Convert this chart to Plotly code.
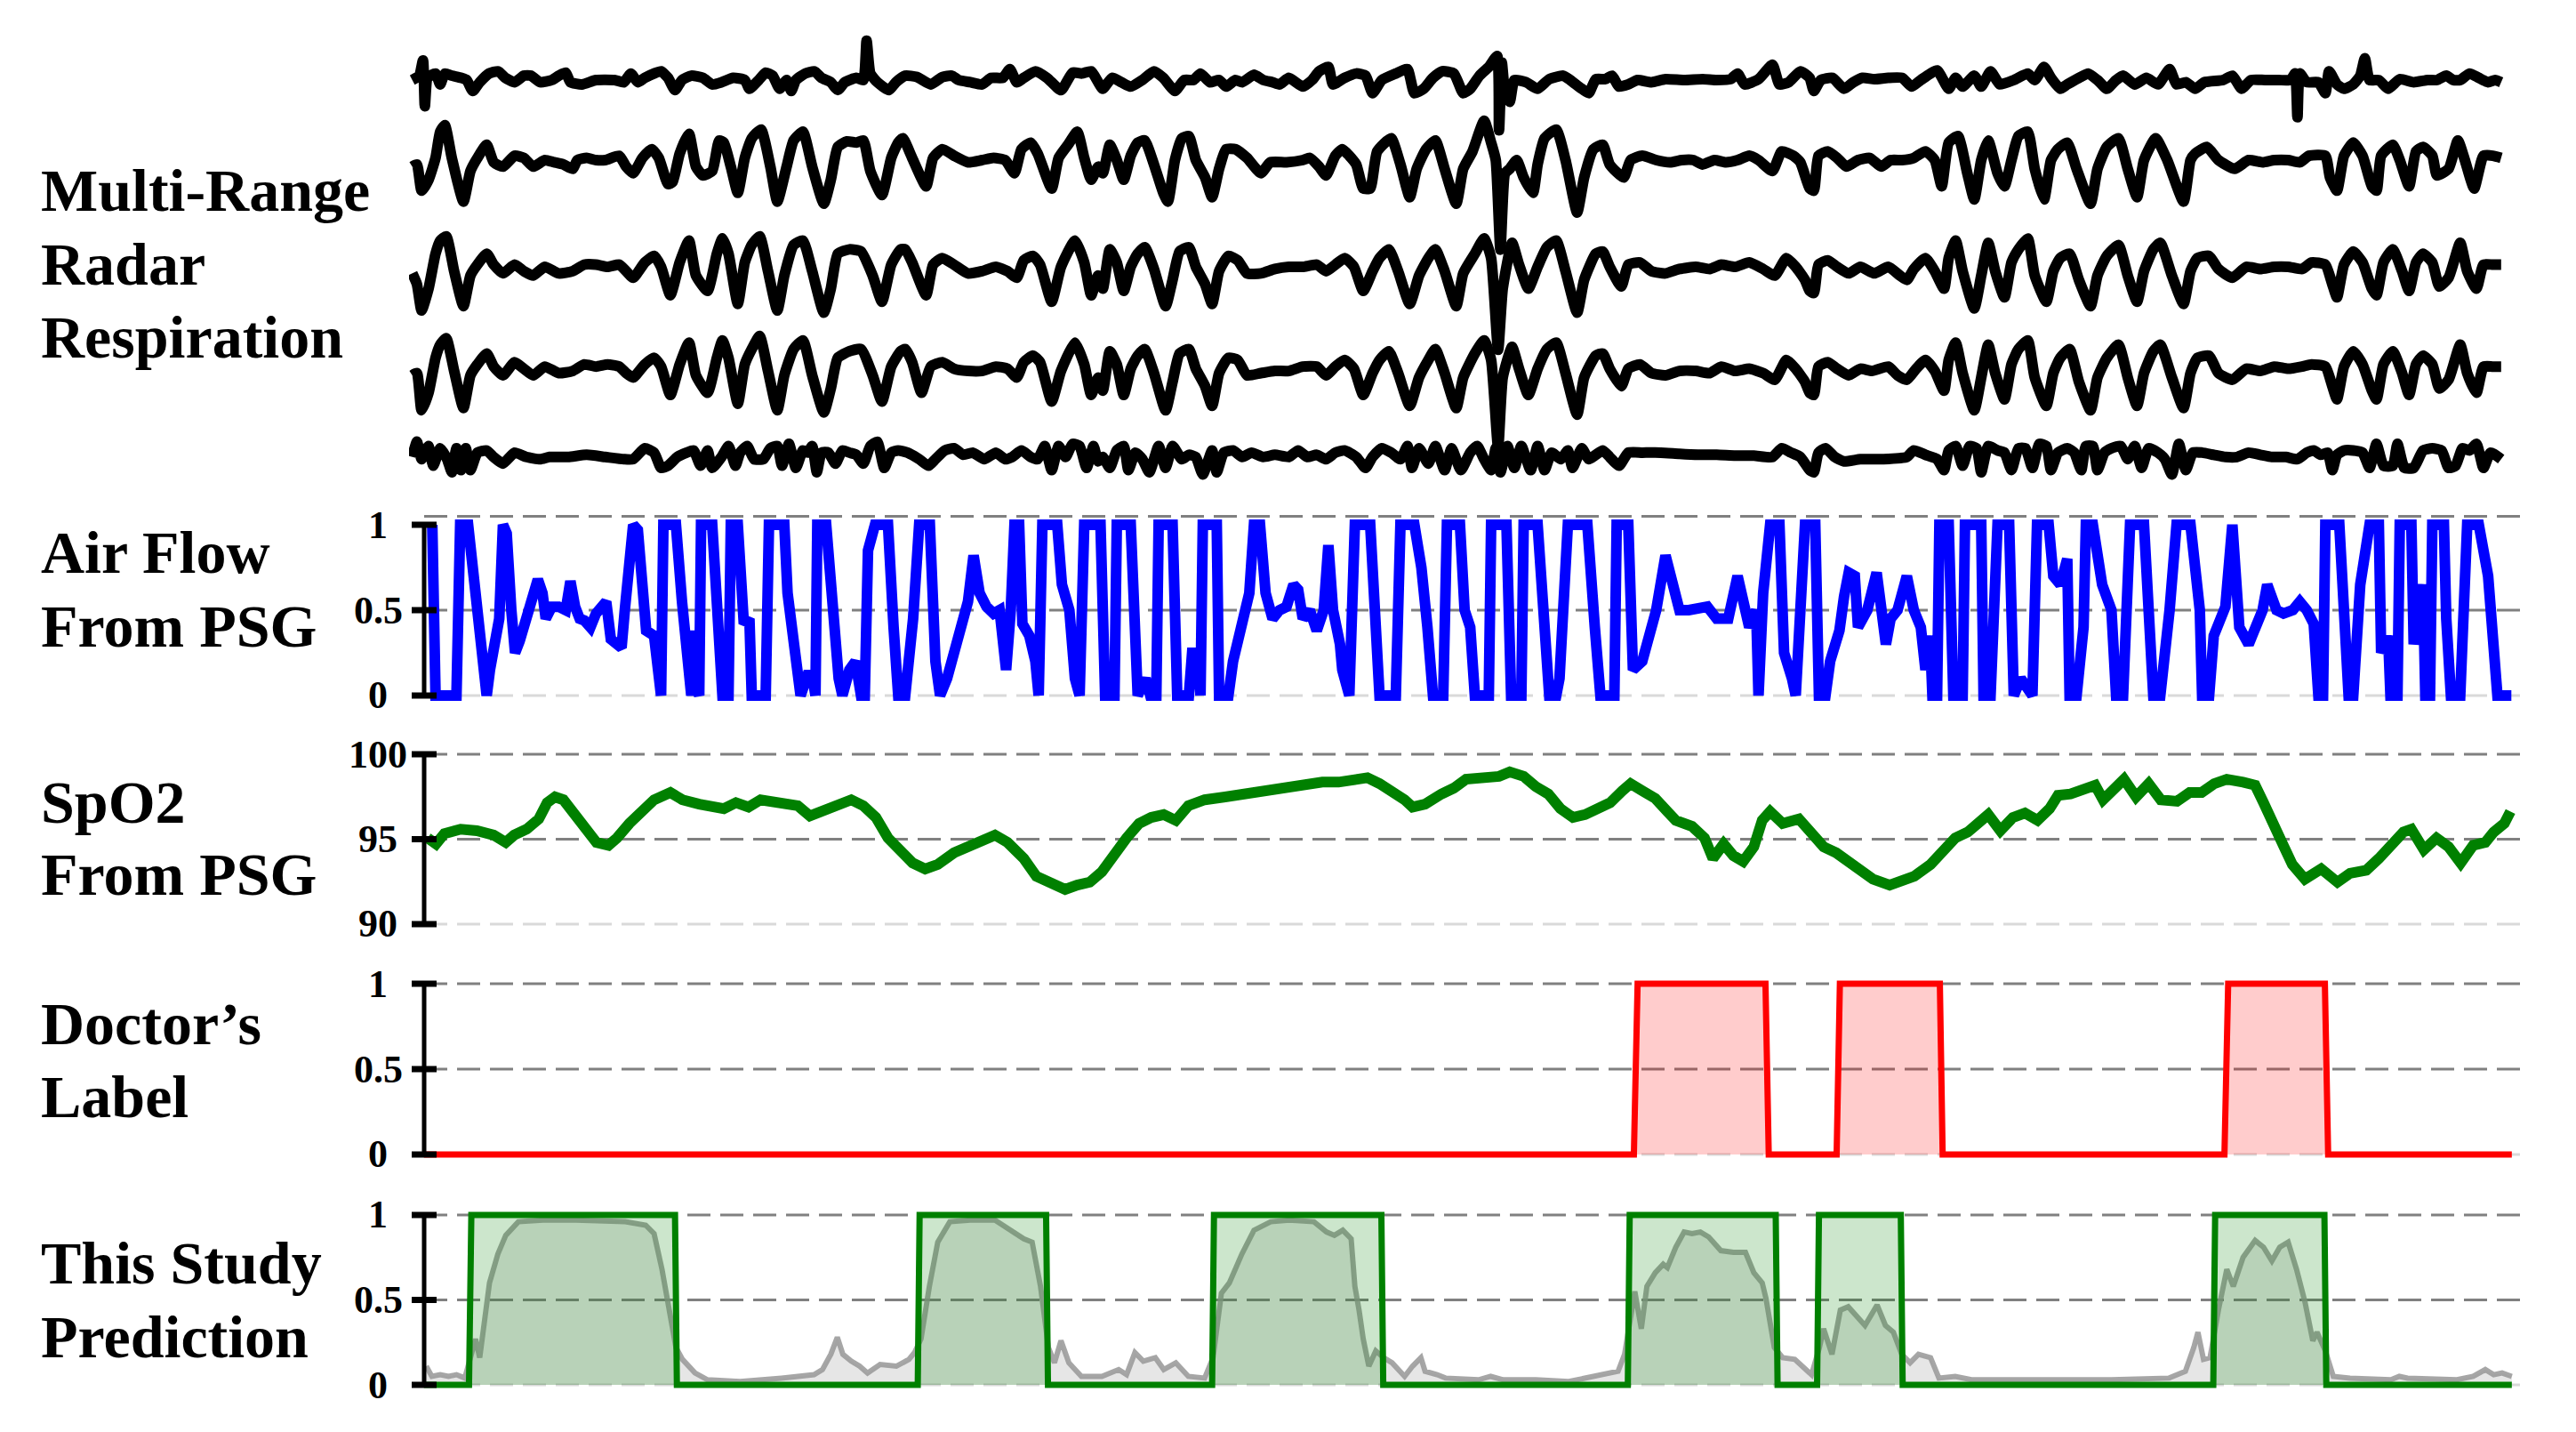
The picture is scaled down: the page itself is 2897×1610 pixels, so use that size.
import plotly.graph_objects as go

W, H = 2897, 1610
PAGE_MARGIN = 8  # default body margin of the html page
FONT = "Liberation Serif, Times New Roman, serif"

# ---------------- data (time in samples, values in signal units) ----------------
RADAR_1 = [(45,0.0),(60,0.1),(68,0.45),(72,-0.6),(78,0.05),(95,0.15),(105,-0.1),(115,0.15),(130,0.1),(150,0.05),(162,0.0),(175,-0.25),(190,-0.05),(210,0.15),(230,0.2),(245,0.05),(265,-0.05),(285,0.1),(300,0.1),(320,-0.05),(345,0.0),(360,0.1),(375,0.17),(385,-0.05),(410,-0.1),(440,0.0),(480,0.0),(500,-0.05),(515,0.15),(530,-0.05),(545,0.05),(565,0.15),(580,0.2),(595,0.05),(610,-0.23),(625,0.0),(645,0.1),(670,0.05),(690,-0.1),(710,-0.05),(735,0.05),(760,0.0),(770,-0.2),(790,0.0),(805,0.17),(820,0.1),(835,-0.2),(850,0.0),(860,-0.25),(870,0.0),(890,0.15),(910,0.2),(925,0.05),(945,-0.05),(960,-0.23),(975,-0.05),(1000,0.05),(1015,0.0),(1022,0.9),(1030,0.15),(1045,-0.05),(1070,-0.23),(1085,-0.05),(1105,0.1),(1130,0.07),(1160,-0.1),(1185,0.07),(1205,0.1),(1220,0.0),(1245,-0.05),(1270,-0.1),(1290,0.05),(1315,0.05),(1330,0.25),(1345,-0.05),(1360,0.05),(1385,0.2),(1410,0.05),(1440,-0.23),(1465,0.17),(1485,0.15),(1505,0.2),(1520,-0.05),
           (1530,-0.2),(1550,0.05),(1570,-0.05),(1590,-0.15),(1615,0.0),(1640,0.2),(1660,0.05),(1685,-0.25),(1705,0.0),(1725,0.0),(1740,0.15),(1760,-0.05),(1780,0.0),(1795,-0.15),(1815,0.0),(1830,-0.05),(1855,0.12),(1875,0.0),(1895,-0.05),(1910,-0.1),(1930,0.05),(1960,-0.15),(1980,0.0),(1995,0.2),(2015,0.3),(2025,-0.1),(2050,0.05),(2075,0.15),(2095,0.1),(2110,-0.3),(2130,0.0),(2160,0.15),(2185,0.25),(2200,-0.3),(2220,-0.2),(2240,0.05),(2260,0.2),(2285,0.15),(2305,-0.3),(2320,-0.2),(2340,0.1),(2360,0.3),(2378,0.55),(2382,-1.15),(2388,0.4),(2395,-0.3),(2405,-0.5),(2415,0.0),(2440,-0.05),(2465,-0.2),(2490,0.02),(2520,0.1),(2535,0.0),(2560,-0.2),(2575,-0.3),(2590,0.02),(2610,0.02),(2625,0.1),(2640,-0.15),(2660,-0.1),(2680,0.0),(2710,-0.05),(2740,0.02),(2780,0.0),(2820,0.02),(2850,0.0),(2880,0.02),(2895,0.15),(2910,-0.1),(2940,0.02),(2970,0.35),(2985,-0.1),(3005,-0.05),(3030,0.2),(3050,0.05),
           (3059,-0.25),(3074,0.0),(3099,0.05),(3124,-0.2),(3144,-0.05),(3164,0.05),(3189,0.02),(3219,0.05),(3249,0.05),(3269,-0.15),(3289,0.0),(3324,0.22),(3349,-0.2),(3364,0.05),(3379,-0.15),(3404,0.1),(3419,-0.15),(3439,0.2),(3459,-0.1),(3489,0.0),(3519,0.15),(3534,0.0),(3554,0.3),(3569,0.05),(3589,-0.2),(3604,-0.1),(3629,0.05),(3649,0.15),(3669,0.0),(3689,-0.2),(3709,0.0),(3724,0.1),(3749,-0.1),(3774,0.05),(3799,-0.1),(3824,0.25),(3839,-0.1),(3859,-0.05),(3879,-0.2),(3899,-0.05),(3939,0.0),(3959,0.1),(3979,-0.2),(3999,0.0),(4029,0.0),(4059,0.0),(4084,0.0),(4094,0.15),(4099,-0.85),(4104,0.15),(4119,-0.05),(4144,-0.05),(4159,-0.3),(4167,0.2),(4184,-0.1),(4199,-0.2),(4219,-0.1),(4234,0.1),(4244,0.5),(4254,0.0),(4274,0.0),(4294,-0.2),(4319,0.02),(4349,-0.05),(4379,0.0),(4399,0.0),(4419,0.1),(4434,0.0),(4449,0.0),(4469,0.15),(4489,0.05),(4509,-0.05),(4524,0.0),(4537,-0.05)]

RADAR_2 = [(45,-0.15),(55,-0.1),(65,-0.7),(80,-0.45),(95,0.05),(105,0.65),(115,0.8),(130,0.05),(155,-0.95),(170,-0.25),(185,0.05),(205,0.35),(220,-0.05),(240,-0.15),(265,0.1),(285,0.05),(305,-0.15),(330,0.0),(350,-0.05),(370,-0.1),(390,-0.2),(400,0.0),(420,0.05),(440,0.0),(460,0.0),(490,0.1),(505,-0.15),(520,-0.3),(540,0.05),(560,0.25),(575,0.05),(595,-0.55),(605,-0.5),(620,0.15),(640,0.6),(655,-0.15),(670,-0.35),(690,-0.25),(705,0.45),(715,0.4),(730,-0.15),(745,-0.75),(760,0.05),(775,0.5),(795,0.7),(815,-0.15),(830,-0.95),(850,-0.15),(865,0.45),(885,0.65),(905,-0.15),(930,-1.0),(945,-0.45),(960,0.3),(980,0.43),(1000,0.4),(1015,0.45),(1030,-0.25),(1055,-0.8),(1075,0.05),(1090,0.4),(1100,0.5),(1120,0.05),(1150,-0.6),(1165,0.05),(1185,0.25),(1210,0.1),(1240,-0.05),(1270,0.0),(1295,0.05),(1320,0.0),(1340,-0.3),(1355,0.25),(1375,0.4),(1390,0.15),(1420,-0.65),(1435,0.05),(1455,0.35),(1475,0.65),(1490,0.05),(1505,-0.45),(1520,-0.15),
           (1530,-0.3),(1545,0.35),(1560,0.0),(1575,-0.45),(1590,0.1),(1605,0.4),(1620,0.45),(1640,-0.1),(1660,-0.75),(1670,-0.95),(1685,0.0),(1700,0.5),(1715,0.55),(1730,0.0),(1750,-0.4),(1765,-0.85),(1780,-0.2),(1795,0.25),(1815,0.25),(1840,0.05),(1870,-0.3),(1890,-0.05),(1925,-0.05),(1960,0.0),(1975,0.05),(1995,-0.15),(2010,-0.35),(2030,0.1),(2045,0.25),(2060,0.1),(2075,-0.1),(2090,-0.65),(2105,-0.65),(2120,0.2),(2150,0.5),(2170,-0.1),(2190,-0.85),(2205,-0.2),(2225,0.25),(2245,0.45),(2265,-0.2),(2290,-1.0),(2305,-0.2),(2325,0.2),(2350,0.9),(2365,0.4),(2375,0.0),(2385,-2.05),(2395,-0.3),(2405,-0.2),(2420,0.0),(2435,-0.4),(2455,-0.75),(2465,-0.1),(2480,0.5),(2505,0.7),(2525,0.0),(2550,-1.2),(2565,-0.4),(2585,0.25),(2605,0.35),(2620,-0.1),(2650,-0.4),(2665,0.0),(2690,0.1),(2720,0.0),(2750,-0.05),(2775,0.0),(2800,0.0),(2820,-0.1),(2845,0.0),(2870,-0.05),(2895,0.0),(2920,0.1),(2940,0.0),(2970,-0.25),(2990,0.2),(3015,0.1),(3030,-0.05),(3050,-0.65),
           (3059,-0.7),(3069,0.1),(3089,0.2),(3109,0.05),(3129,-0.15),(3154,0.0),(3179,0.05),(3204,-0.15),(3224,0.0),(3249,0.0),(3274,0.05),(3299,0.2),(3319,0.0),(3334,-0.6),(3349,0.4),(3369,0.55),(3389,-0.3),(3404,-0.9),(3419,0.0),(3434,0.45),(3454,-0.3),(3469,-0.6),(3484,0.0),(3499,0.55),(3519,0.65),(3534,-0.2),(3554,-0.9),(3569,0.0),(3584,0.25),(3604,0.4),(3624,-0.2),(3654,-1.0),(3669,-0.2),(3689,0.3),(3714,0.5),(3734,-0.2),(3754,-0.85),(3769,0.0),(3794,0.5),(3819,0.0),(3854,-0.95),(3869,0.0),(3879,0.15),(3904,0.3),(3929,0.0),(3964,-0.2),(3994,0.0),(4024,-0.05),(4049,0.0),(4079,0.0),(4104,-0.05),(4124,0.1),(4159,0.1),(4169,-0.4),(4184,-0.7),(4199,0.1),(4219,0.4),(4239,0.1),(4259,-0.6),(4269,-0.7),(4279,0.1),(4304,0.35),(4319,0.0),(4339,-0.6),(4354,0.2),(4369,0.3),(4389,0.1),(4399,-0.35),(4424,-0.2),(4444,0.45),(4459,0.0),(4479,-0.65),(4499,0.1),(4519,0.1),(4537,0.05)]

RADAR_3 = [(45,-0.15),(55,-0.4),(65,-1.0),(80,-0.5),(95,0.3),(105,0.6),(118,0.7),(135,-0.1),(155,-0.9),(170,-0.2),(185,0.05),(205,0.3),(220,0.05),(240,-0.15),(265,0.05),(285,-0.1),(305,-0.2),(330,0.0),(360,-0.15),(390,-0.1),(415,0.05),(440,0.05),(465,0.0),(490,0.05),(505,-0.1),(520,-0.25),(545,0.1),(565,0.25),(580,0.0),(600,-0.65),(620,0.1),(640,0.6),(655,-0.2),(680,-0.55),(700,0.3),(712,0.65),(725,0.3),(745,-0.85),(760,0.1),(775,0.5),(792,0.7),(810,-0.1),(830,-1.0),(845,-0.2),(865,0.5),(885,0.6),(905,-0.1),(930,-1.05),(945,-0.5),(960,0.3),(985,0.4),(1010,0.35),(1035,-0.2),(1055,-0.8),(1075,0.05),(1095,0.4),(1105,0.4),(1120,0.1),(1150,-0.65),(1165,0.05),(1185,0.2),(1210,0.05),(1240,-0.15),(1270,-0.1),(1300,0.0),(1325,-0.1),(1345,-0.25),(1360,0.15),(1380,0.25),(1395,0.05),(1420,-0.8),(1440,0.0),(1470,0.6),(1490,0.1),(1505,-0.65),(1520,-0.2),
           (1530,-0.5),(1545,0.4),(1560,0.1),(1575,-0.55),(1590,0.0),(1605,0.3),(1620,0.45),(1640,-0.05),(1665,-0.9),(1680,-0.3),(1695,0.35),(1715,0.45),(1730,0.0),(1750,-0.4),(1765,-0.85),(1780,-0.1),(1800,0.25),(1820,0.15),(1840,-0.15),(1870,-0.15),(1900,-0.05),(1930,0.0),(1960,0.0),(1990,0.05),(2010,-0.1),(2030,0.05),(2050,0.2),(2070,0.0),(2090,-0.55),(2110,-0.1),(2125,0.2),(2145,0.4),(2165,-0.1),(2190,-0.85),(2210,-0.2),(2230,0.2),(2245,0.4),(2265,-0.1),(2290,-0.9),(2305,-0.15),(2330,0.3),(2350,0.65),(2365,0.2),(2380,-1.9),(2390,-0.5),(2410,0.55),(2425,0.05),(2445,-0.5),(2465,0.0),(2485,0.45),(2505,0.6),(2525,-0.1),(2550,-1.05),(2565,-0.3),(2590,0.3),(2605,0.35),(2620,0.0),(2645,-0.45),(2660,0.05),(2685,0.1),(2710,-0.1),(2740,-0.15),(2770,-0.05),(2805,0.0),(2835,-0.05),(2860,0.05),(2890,0.0),(2920,0.1),(2950,-0.05),(2975,-0.2),(3000,0.2),(3020,0.0),(3040,-0.3),(3050,-0.55),
           (3059,-0.6),(3069,0.05),(3089,0.15),(3109,0.0),(3134,-0.15),(3159,0.0),(3189,-0.15),(3219,0.0),(3244,-0.2),(3259,-0.3),(3274,-0.05),(3299,0.2),(3319,-0.1),(3339,-0.5),(3349,0.2),(3364,0.6),(3379,-0.1),(3404,-0.95),(3419,-0.2),(3434,0.55),(3449,-0.1),(3469,-0.7),(3484,0.1),(3499,0.4),(3519,0.65),(3534,-0.2),(3559,-0.8),(3574,-0.1),(3589,0.2),(3609,0.3),(3629,-0.3),(3654,-0.9),(3669,-0.2),(3689,0.25),(3714,0.5),(3734,-0.2),(3754,-0.8),(3769,-0.1),(3789,0.4),(3804,0.55),(3829,-0.2),(3854,-0.85),(3869,-0.1),(3884,0.2),(3909,0.25),(3929,-0.05),(3959,-0.25),(3989,0.0),(4019,-0.05),(4049,0.0),(4079,0.0),(4109,-0.05),(4129,0.1),(4159,0.05),(4174,-0.4),(4184,-0.7),(4199,0.05),(4219,0.35),(4239,0.1),(4259,-0.5),(4269,-0.65),(4284,0.1),(4304,0.4),(4324,-0.1),(4339,-0.55),(4354,0.1),(4369,0.3),(4389,0.1),(4404,-0.45),(4424,-0.25),(4449,0.55),(4464,-0.1),(4484,-0.5),(4499,0.05),(4519,0.05),(4537,0.05)]

RADAR_4 = [(45,-0.15),(55,-0.1),(65,-0.95),(80,-0.55),(95,0.25),(105,0.55),(118,0.7),(135,-0.05),(155,-0.9),(170,-0.15),(185,0.1),(205,0.35),(220,0.05),(240,-0.15),(265,0.15),(285,0.0),(305,-0.15),(330,0.05),(360,-0.1),(390,-0.05),(415,0.1),(440,0.05),(465,0.1),(490,0.05),(505,-0.1),(520,-0.2),(545,0.1),(565,0.25),(580,0.05),(600,-0.6),(620,0.1),(640,0.6),(655,-0.15),(680,-0.55),(700,0.25),(712,0.65),(725,0.25),(745,-0.8),(760,0.1),(775,0.45),(792,0.75),(810,-0.05),(830,-0.95),(845,-0.15),(865,0.45),(885,0.65),(905,-0.15),(930,-1.0),(945,-0.45),(960,0.25),(985,0.4),(1010,0.45),(1035,-0.15),(1055,-0.75),(1075,0.05),(1095,0.4),(1105,0.45),(1120,0.15),(1140,-0.55),(1160,0.05),(1185,0.15),(1210,0.0),(1240,-0.05),(1270,-0.05),(1300,0.05),(1325,0.0),(1345,-0.2),(1360,0.15),(1380,0.3),(1395,0.15),(1420,-0.75),(1440,-0.05),(1470,0.6),(1490,0.1),(1505,-0.6),(1520,-0.2),
           (1530,-0.5),(1545,0.4),(1560,0.1),(1575,-0.6),(1590,0.0),(1605,0.3),(1620,0.45),(1640,-0.1),(1665,-0.95),(1680,-0.3),(1695,0.35),(1715,0.45),(1730,0.0),(1750,-0.4),(1765,-0.85),(1780,-0.1),(1800,0.25),(1820,0.2),(1840,-0.15),(1870,-0.1),(1900,-0.05),(1930,-0.05),(1960,0.05),(1990,0.05),(2010,-0.15),(2030,0.05),(2050,0.2),(2070,0.0),(2090,-0.6),(2110,-0.1),(2125,0.2),(2145,0.4),(2165,-0.1),(2190,-0.85),(2210,-0.2),(2230,0.2),(2245,0.45),(2265,-0.1),(2290,-0.9),(2305,-0.2),(2330,0.35),(2350,0.65),(2365,0.2),(2380,-1.8),(2390,-0.2),(2410,0.5),(2425,0.0),(2445,-0.6),(2465,0.0),(2485,0.45),(2505,0.6),(2525,-0.1),(2550,-1.05),(2565,-0.2),(2590,0.3),(2605,0.35),(2620,0.0),(2645,-0.4),(2660,0.0),(2685,0.1),(2710,-0.1),(2740,-0.15),(2770,-0.05),(2805,-0.05),(2835,-0.1),(2860,0.05),(2890,-0.05),(2920,0.0),(2950,-0.1),(2975,-0.25),(3000,0.2),(3020,0.0),(3040,-0.3),(3050,-0.55),
           (3059,-0.6),(3069,0.05),(3089,0.15),(3109,0.0),(3134,-0.15),(3159,0.0),(3184,-0.05),(3219,0.05),(3239,-0.15),(3259,-0.25),(3279,0.0),(3299,0.2),(3319,-0.05),(3339,-0.5),(3349,0.2),(3364,0.6),(3379,-0.1),(3404,-0.95),(3419,-0.2),(3434,0.55),(3449,-0.1),(3469,-0.7),(3484,0.1),(3499,0.45),(3519,0.65),(3534,-0.2),(3559,-0.85),(3574,-0.1),(3589,0.25),(3609,0.45),(3629,-0.3),(3654,-0.95),(3669,-0.2),(3689,0.25),(3714,0.55),(3734,-0.2),(3754,-0.85),(3769,-0.1),(3789,0.4),(3804,0.55),(3829,-0.2),(3854,-0.9),(3869,-0.1),(3884,0.25),(3909,0.3),(3929,-0.1),(3959,-0.25),(3989,0.0),(4019,-0.05),(4049,0.05),(4079,0.0),(4109,0.05),(4129,0.1),(4159,0.05),(4174,-0.4),(4184,-0.7),(4199,0.05),(4219,0.4),(4239,0.1),(4259,-0.5),(4269,-0.7),(4284,0.1),(4304,0.4),(4324,-0.1),(4339,-0.6),(4354,0.1),(4369,0.3),(4389,0.1),(4404,-0.45),(4424,-0.25),(4449,0.55),(4464,-0.1),(4484,-0.55),(4499,0.05),(4519,0.05),(4537,0.05)]

RADAR_5 = [(45,0.0),(55,0.35),(65,-0.05),(80,0.25),(90,-0.2),(105,0.2),(120,-0.05),(130,-0.35),(140,0.2),(150,-0.3),(160,0.2),(170,-0.3),(185,0.1),(205,0.15),(220,0.0),(240,-0.15),(265,0.1),(290,0.0),(320,-0.05),(340,0.0),(380,0.0),(420,0.05),(460,0.0),(500,-0.05),(520,-0.05),(545,0.2),(565,0.1),(580,-0.25),(595,-0.2),(615,0.0),(635,0.1),(650,0.15),(665,-0.2),(680,0.15),(690,-0.25),(710,0.0),(725,0.25),(740,-0.2),(750,0.1),(765,0.25),(780,-0.05),(800,-0.05),(815,0.2),(830,0.25),(840,-0.2),(855,0.3),(870,-0.25),(885,0.15),(895,0.1),(905,0.25),(915,-0.35),(925,0.1),(940,0.1),(955,-0.15),(970,0.15),(985,0.1),(1000,0.05),(1015,-0.15),(1030,0.25),(1045,0.35),(1060,-0.25),(1075,0.1),(1090,0.15),(1110,0.1),(1135,-0.05),(1155,-0.2),(1170,-0.05),(1190,0.15),(1210,0.2),(1230,0.05),(1250,0.1),(1275,-0.05),(1300,0.1),(1320,-0.05),(1335,0.0),(1355,0.15),(1375,0.0),(1390,-0.05),(1405,0.25),(1420,-0.3),(1435,0.25),(1450,0.0),(1465,0.3),(1480,0.25),(1495,-0.25),(1510,0.25),(1520,-0.1),
           (1530,0.0),(1545,-0.25),(1560,0.15),(1575,0.25),(1585,-0.3),(1600,0.1),(1615,-0.05),(1630,-0.35),(1650,0.25),(1665,-0.25),(1680,0.25),(1700,-0.05),(1715,0.05),(1730,0.0),(1745,-0.4),(1765,0.15),(1775,-0.35),(1790,0.1),(1810,0.15),(1830,0.0),(1850,0.1),(1875,0.0),(1900,0.05),(1930,0.0),(1950,0.15),(1970,0.0),(1990,0.05),(2010,-0.05),(2030,0.1),(2050,0.15),(2075,0.0),(2095,-0.25),(2110,0.0),(2130,0.2),(2150,0.1),(2170,-0.05),(2185,0.25),(2195,-0.25),(2210,0.2),(2230,-0.15),(2245,0.25),(2265,-0.3),(2280,0.2),(2300,-0.3),(2320,0.1),(2335,0.25),(2350,-0.05),(2365,-0.3),(2375,0.2),(2385,-0.35),(2400,0.25),(2415,-0.25),(2430,0.25),(2450,-0.3),(2465,0.25),(2480,-0.3),(2495,0.1),(2515,-0.05),(2530,0.15),(2540,-0.25),(2560,0.2),(2575,-0.05),(2590,0.05),(2605,0.15),(2620,0.0),(2640,-0.2),(2660,0.1),(2690,0.1),(2730,0.1),(2770,0.07),(2810,0.05),(2850,0.05),(2890,0.03),(2930,0.03),(2970,0.0),(2990,0.2),(3010,0.1),(3030,0.0),(3050,-0.3),
           (3059,-0.35),(3069,0.1),(3084,0.2),(3104,0.0),(3124,-0.1),(3159,-0.05),(3209,-0.05),(3259,0.0),(3274,0.15),(3299,0.05),(3324,-0.05),(3339,-0.3),(3349,0.15),(3364,0.25),(3379,-0.2),(3394,0.25),(3409,0.2),(3419,-0.35),(3434,0.25),(3454,0.15),(3469,0.1),(3484,-0.3),(3499,0.2),(3514,0.2),(3529,-0.25),(3544,0.3),(3559,0.25),(3569,-0.3),(3584,0.1),(3604,0.2),(3619,0.1),(3634,-0.3),(3644,0.25),(3659,0.25),(3669,-0.3),(3684,0.1),(3699,0.2),(3719,0.25),(3734,-0.05),(3749,0.25),(3764,-0.25),(3779,0.2),(3799,0.1),(3814,-0.05),(3829,-0.4),(3844,0.3),(3859,-0.3),(3874,0.1),(3894,0.1),(3919,0.05),(3944,0.0),(3969,0.0),(3994,0.1),(4019,0.05),(4044,0.0),(4074,0.0),(4099,-0.05),(4119,0.1),(4134,0.15),(4149,0.05),(4164,0.1),(4174,-0.3),(4184,0.05),(4199,0.15),(4219,0.15),(4239,0.1),(4254,-0.25),(4269,0.3),(4284,-0.2),(4304,-0.2),(4314,0.3),(4329,-0.25),(4349,-0.25),(4369,0.15),(4389,0.2),(4409,0.15),(4424,-0.25),(4439,-0.2),(4454,0.2),(4469,0.15),(4484,0.3),(4499,-0.25),(4514,0.1),(4537,-0.05)]

AIRFLOW = [(88,1.0),(95,0.0),(140,0.0),(148,1.0),(165,1.0),(180,0.62),(192,0.45),(200,0.15),(205,0.0),(212,0.15),(222,0.3),(232,0.45),(240,1.0),(248,0.95),(258,0.5),(266,0.25),(276,0.32),(290,0.45),(303,0.6),(315,0.68),(325,0.6),(332,0.45),(345,0.52),(360,0.52),(375,0.5),(385,0.67),(395,0.52),(405,0.45),(415,0.44),(428,0.4),(440,0.48),(462,0.55),(472,0.33),(495,0.28),(502,0.5),(512,0.88),(520,1.0),(530,0.97),(540,0.62),(548,0.38),(565,0.35),(572,0.15),(580,0.0),(585,1.0),(612,1.0),(625,0.55),(638,0.1),(645,0.0),(650,0.38),(655,0.05),(662,0.0),(666,1.0),(690,1.0),(700,0.5),(708,0.1),(712,0.0),(725,0.0),(730,1.0),(745,1.0),(758,0.42),(770,0.45),(775,0.0),(805,0.0),(812,1.0),(845,1.0),(852,0.6),(866,0.3),(880,0.0),(895,0.12),(905,0.12),(912,0.0),(916,1.0),(935,1.0),(950,0.4),(962,0.1),(970,0.0),(985,0.15),(998,0.2),(1010,0.0),(1018,0.0),(1025,0.85),(1040,1.0),(1068,1.0),(1080,0.4),(1090,0.0),(1105,0.0),(1122,0.45),(1135,1.0),(1158,1.0),(1170,0.2),(1180,0.0),(1195,0.1),(1210,0.25),(1225,0.45),(1240,0.55),(1252,0.82),(1265,0.6),(1280,0.52),(1295,0.48),(1308,0.5),(1322,0.15),(1332,0.5),(1340,1.0),(1350,1.0),(1357,0.42),(1372,0.35),(1385,0.2),(1392,0.0),(1400,1.0),(1432,1.0),(1442,0.65),(1458,0.5),(1470,0.1),(1480,0.0),(1490,1.0),(1525,1.0),(1535,0.0),
           (1555,0.0),(1560,1.0),(1590,1.0),(1595,0.5),(1605,0.0),(1622,0.1),(1632,0.0),(1645,0.0),(1650,1.0),(1680,1.0),(1685,0.5),(1690,0.0),(1715,0.0),(1722,0.25),(1735,0.25),(1740,0.0),(1745,1.0),(1775,1.0),(1780,0.0),(1800,0.0),(1810,0.2),(1820,0.3),(1830,0.45),(1845,0.6),(1855,1.0),(1868,1.0),(1880,0.6),(1895,0.45),(1910,0.5),(1925,0.52),(1940,0.65),(1950,0.62),(1960,0.45),(1975,0.5),(1990,0.38),(2005,0.5),(2015,0.88),(2025,0.5),(2040,0.3),(2045,0.15),(2060,0.0),(2072,1.0),(2105,1.0),(2115,0.5),(2125,0.0),(2160,0.0),(2170,1.0),(2200,1.0),(2215,0.75),(2228,0.4),(2240,0.0),(2262,0.0),(2270,1.0),(2298,1.0),(2308,0.5),(2320,0.4),(2330,0.0),(2360,0.0),(2365,1.0),(2398,1.0),(2408,0.0),(2430,0.0),(2435,1.0),(2465,1.0),(2475,0.5),(2490,0.0),(2505,0.0),(2512,0.1),(2530,1.0),(2572,1.0),(2588,0.4),(2600,0.0),(2630,0.0),(2635,1.0),(2660,1.0),(2670,0.15),(2690,0.2),(2708,0.35),(2720,0.5),(2740,0.82),(2755,0.65),(2770,0.5),(2790,0.5),(2830,0.52),(2850,0.45),(2875,0.45),(2895,0.7),(2912,0.5),(2920,0.4),(2935,0.5),(2940,0.0),(2950,0.6),(2965,1.0),(2985,1.0),(2995,0.25),(3012,0.1),(3020,0.0),(3040,1.0),(3062,1.0),(3070,0.0),
           (3084,0.0),(3094,0.2),(3114,0.38),(3124,0.58),(3134,0.72),(3147,0.7),(3154,0.4),(3164,0.45),(3174,0.5),(3194,0.72),(3204,0.55),(3214,0.3),(3224,0.45),(3239,0.5),(3259,0.7),(3274,0.5),(3289,0.4),(3299,0.15),(3309,0.35),(3314,0.0),(3324,0.0),(3329,1.0),(3349,1.0),(3359,0.0),(3379,0.0),(3384,1.0),(3419,1.0),(3424,0.0),(3439,0.0),(3454,1.0),(3479,1.0),(3489,0.0),(3504,0.1),(3529,0.0),(3539,1.0),(3564,1.0),(3574,0.7),(3589,0.65),(3604,0.8),(3609,0.0),(3624,0.0),(3639,0.4),(3644,1.0),(3659,1.0),(3679,0.65),(3699,0.5),(3709,0.0),(3724,0.0),(3739,1.0),(3769,1.0),(3789,0.0),(3804,0.0),(3824,0.5),(3839,1.0),(3869,1.0),(3889,0.5),(3894,0.0),(3909,0.0),(3919,0.35),(3934,0.45),(3944,0.52),(3959,1.0),(3974,0.4),(3994,0.3),(4009,0.4),(4024,0.5),(4034,0.65),(4054,0.5),(4069,0.48),(4089,0.5),(4104,0.55),(4119,0.5),(4134,0.42),(4144,0.0),(4154,0.0),(4159,1.0),(4189,1.0),(4209,0.0),(4219,0.0),(4234,0.65),(4254,1.0),(4274,1.0),(4279,0.25),(4294,0.35),(4299,0.0),(4314,0.0),(4319,1.0),(4344,1.0),(4349,0.3),(4369,0.65),(4374,0.0),(4384,0.0),(4389,1.0),(4414,1.0),(4419,0.45),(4429,0.0),(4449,0.0),(4464,1.0),(4489,1.0),(4509,0.7),(4529,0.0),(4559,0.0)]

SPO2 = [(78,95.07),(96,94.72),(114,95.33),(149,95.59),(184,95.50),(220,95.24),(246,94.81),(264,95.24),(291,95.59),(317,96.19),(335,97.15),(352,97.49),(370,97.32),(397,96.37),(423,95.42),(441,94.81),(467,94.64),(485,95.07),(512,95.93),(538,96.63),(565,97.32),(600,97.75),(626,97.32),(662,97.06),(697,96.89),(715,96.80),(741,97.15),(768,96.89),(794,97.32),(821,97.23),(847,97.15),(874,96.97),(900,96.37),(927,96.63),(962,96.97),(989,97.32),(1015,96.97),(1042,96.28),(1068,95.07),(1095,94.20),(1121,93.60),(1148,93.25),(1175,93.51),(1210,94.20),(1245,94.64),(1281,95.07),(1298,95.24),(1325,94.81),(1360,93.86),(1387,92.82),(1422,92.39),(1449,92.04),(1475,92.30),(1502,92.47),(1528,93.08),(1555,94.20),(1581,95.07),(1608,95.93),(1634,96.28),(1661,96.45),(1687,96.11),(1714,96.97),(1749,97.32),(1793,97.49),(1829,97.66),(1864,97.75),(1899,98.01),
        (1931,98.01),(1966,98.18),(2002,98.36),(2037,98.36),(2072,98.56),(2099,98.62),(2125,98.27),(2152,97.84),(2179,97.32),(2196,96.89),(2223,97.06),(2258,97.66),(2285,98.01),(2311,98.53),(2355,98.62),(2382,98.70),(2405,98.96),(2435,98.70),(2461,98.10),(2488,97.66),(2514,96.80),(2541,96.28),(2567,96.45),(2594,96.80),(2621,97.15),(2647,97.84),(2665,98.27),(2691,97.84),(2718,97.40),(2744,96.63),(2762,96.11),(2797,95.76),(2824,95.07),(2842,93.86),(2865,94.72),(2886,94.03),(2907,93.69),(2930,94.55),(2948,96.11),(2965,96.63),(2992,95.93),(3027,96.19),(3054,95.42),(3080,94.55),(3107,94.20),(3133,93.69),(3160,93.17),(3186,92.65),(3222,92.30),(3248,92.56),(3275,92.82),(3310,93.51),(3337,94.20),(3363,95.07),(3390,95.42),(3416,95.93),(3434,96.45),(3460,95.50),(3487,96.28),(3513,96.54),(3540,96.11),(3566,96.80),(3584,97.58),(3611,97.66),(3637,97.84),(3664,98.18),(3681,97.32),(3708,98.18),(3726,98.53),(3752,97.49),(3779,98.27),(3805,97.32),(3840,97.23),(3867,97.75),(3893,97.75),(3920,98.27),(3947,98.53),(3982,98.36),(4008,98.18),(4026,97.15),(4044,95.93),(4070,94.55),(4088,93.51),(4115,92.65),(4150,93.25),(4185,92.47),(4212,92.99),(4247,93.17),(4274,93.86),(4300,94.72),(4327,95.42),(4344,95.59),(4371,94.38),(4398,95.07),(4424,94.55),(4450,93.60),(4477,94.64),(4503,94.81),(4521,95.42),(4544,95.93),(4557,96.63)]

DOCTOR_LABEL = [(70,0),(2672,0),(2680,1),(2955,1),(2962,0),(3108,0),(3115,1),(3330,1),(3336,0),(3942,0),(3950,1),(4158,1),(4165,0),(4560,0)]

PRED_LABEL = [(70,0),(167,0),(172,1),(610,1),(614,0),(1132,0),(1136,1),(1408,1),(1412,0),(1765,0),(1769,1),(2129,1),(2133,0),(2659,0),(2663,1),(2977,1),(2981,0),(3066,0),(3070,1),(3246,1),(3250,0),(3918,0),(3922,1),(4157,1),(4161,0),(4560,0)]

PRED_PROB = [(75,0.11),(87,0.05),(105,0.06),(123,0.05),(140,0.06),(158,0.04),(170,0.16),(181,0.27),(190,0.16),(202,0.40),(211,0.60),(229,0.77),(246,0.88),(273,0.96),(326,0.97),(397,0.97),(503,0.96),(547,0.94),(565,0.89),(582,0.68),(600,0.40),(612,0.22),(626,0.15),(653,0.07),(680,0.03),(750,0.02),(839,0.04),(874,0.05),(909,0.06),(927,0.09),(945,0.18),(959,0.28),(971,0.18),(989,0.14),(1007,0.11),(1024,0.07),(1051,0.12),(1086,0.11),(1113,0.15),(1125,0.19),(1139,0.27),(1157,0.58),(1175,0.84),(1201,0.96),(1245,0.97),(1298,0.97),(1334,0.91),(1360,0.86),(1378,0.84),(1396,0.58),(1413,0.22),(1426,0.13),(1440,0.26),(1457,0.13),(1484,0.05),(1528,0.05),(1564,0.09),(1581,0.06),(1599,0.19),(1617,0.14),(1643,0.16),(1661,0.09),(1687,0.13),(1714,0.05),(1749,0.04),(1767,0.16),(1785,0.54),(1802,0.60),(1829,0.77),(1855,0.91),(1891,0.96),
             (1931,0.97),(1984,0.96),(2011,0.90),(2028,0.88),(2046,0.91),(2064,0.86),(2072,0.58),(2081,0.44),(2090,0.27),(2102,0.11),(2117,0.20),(2134,0.16),(2152,0.13),(2179,0.05),(2196,0.11),(2214,0.16),(2223,0.08),(2249,0.06),(2267,0.04),(2338,0.03),(2364,0.05),(2391,0.03),(2461,0.03),(2532,0.02),(2567,0.04),(2612,0.06),(2638,0.08),(2652,0.18),(2674,0.55),(2688,0.33),(2700,0.58),(2718,0.66),(2735,0.71),(2744,0.69),(2762,0.81),(2780,0.90),(2797,0.89),(2815,0.90),(2833,0.87),(2859,0.79),(2886,0.78),(2912,0.78),(2930,0.66),(2948,0.60),(2956,0.51),(2974,0.22),(2992,0.16),(3018,0.15),(3036,0.11),(3054,0.06),(3071,0.22),(3080,0.33),(3098,0.18),(3116,0.44),(3133,0.46),(3151,0.40),(3169,0.35),(3195,0.47),(3213,0.35),(3230,0.31),(3248,0.18),(3266,0.13),(3284,0.18),(3310,0.16),(3328,0.04),(3363,0.05),(3398,0.03),(3522,0.03),(3699,0.03),(3823,0.04),(3858,0.08),(3876,0.22),(3885,0.31),(3897,0.15),(3911,0.16),(3929,0.44),(3947,0.68),(3961,0.58),(3982,0.75),(4008,0.85),(4026,0.81),(4044,0.73),(4061,0.81),(4079,0.84),(4097,0.68),(4115,0.49),(4132,0.26),(4141,0.31),(4159,0.20),(4176,0.05),(4212,0.04),(4300,0.03),(4318,0.05),(4336,0.04),(4442,0.03),(4477,0.05),(4503,0.09),(4521,0.06),(4539,0.07),(4560,0.05)]

LEFT_LABELS = [["Multi-Range", "Radar", "Respiration"], ["Air Flow", "From PSG"],
               ["SpO2", "From PSG"], ["Doctor\u2019s", "Label"], ["This Study", "Prediction"]]
AIRFLOW_TICKS = [0, 0.5, 1]
AIRFLOW_TICKTEXT = ["0", "0.5", "1"]
SPO2_TICKS = [90, 95, 100]
SPO2_TICKTEXT = ["90", "95", "100"]
BIN_TICKS = [0, 0.5, 1]
BIN_TICKTEXT = ["0", "0.5", "1"]

# ---------------- layout constants (window pixels of the 2897x1610 page) ----------------
FW, FH = W - 2 * PAGE_MARGIN, H - 2 * PAGE_MARGIN

def fx(p):
    return (p - PAGE_MARGIN) / FW

def fy(p):
    return 1 - (p - PAGE_MARGIN) / FH

X_LEFT, X_RIGHT = 460, 2840
T_RANGE = [38, 4589]
AXIS_PX = 477
GRID_END_PX = 2837
RADAR_TOP, RADAR_BOT = 32, 556
RADAR_UNIT_PX = 49.1
RADAR_BASE_PX = [90, 180, 300, 414.6, 513.8]
SIGNAL_WIDTH = 12

def split(pairs):
    return [p[0] for p in pairs], [p[1] for p in pairs]

fig = go.Figure()
layout = dict(
    width=FW, height=FH, margin=dict(l=0, r=0, t=0, b=0),
    paper_bgcolor="white", plot_bgcolor="rgba(0,0,0,0)", showlegend=False,
    xaxis=dict(domain=[fx(X_LEFT), fx(X_RIGHT)], range=T_RANGE, visible=False, fixedrange=True),
)

# radar: five overlaid axes sharing the top panel
radar_sets = [RADAR_1, RADAR_2, RADAR_3, RADAR_4, RADAR_5]
span = (RADAR_BOT - RADAR_TOP) / RADAR_UNIT_PX
for i, (pairs, base) in enumerate(zip(radar_sets, RADAR_BASE_PX)):
    hi = (base - RADAR_TOP) / RADAR_UNIT_PX
    lo = hi - span
    name = "yaxis" if i == 0 else f"yaxis{i+1}"
    ax = dict(domain=[fy(RADAR_BOT), fy(RADAR_TOP)], range=[lo, hi], visible=False, fixedrange=True, anchor="x")
    if i > 0:
        ax["overlaying"] = "y"
    layout[name] = ax
    t, v = split(pairs)
    fig.add_trace(go.Scatter(x=t, y=v, mode="lines", yaxis="y" if i == 0 else f"y{i+1}",
                             line=dict(color="black", width=SIGNAL_WIDTH, shape="spline", smoothing=0.5),
                             hoverinfo="skip"))

# lower panels: axis id -> (top px, bottom px, range)
panels = {
    "y6": (578.5, 793.5, [-0.06, 1.06]),
    "y7": (838.5, 1048.5, [89.5, 100.5]),
    "y8": (1094.5, 1309.5, [-0.06, 1.06]),
    "y9": (1354.5, 1568.5, [-0.06, 1.06]),
}
for k, (top, bot, rng) in panels.items():
    layout["yaxis" + k[1:]] = dict(domain=[fy(bot), fy(top)], range=rng, visible=False,
                                   fixedrange=True, anchor="x")

t, v = split(AIRFLOW)
fig.add_trace(go.Scatter(x=t, y=v, mode="lines", yaxis="y6", line=dict(color="#0000ff", width=SIGNAL_WIDTH), hoverinfo="skip"))
t, v = split(SPO2)
fig.add_trace(go.Scatter(x=t, y=v, mode="lines", yaxis="y7", line=dict(color="#008000", width=SIGNAL_WIDTH), hoverinfo="skip"))
t, v = split(DOCTOR_LABEL)
fig.add_trace(go.Scatter(x=t, y=v, mode="lines", yaxis="y8", fill="tozeroy", fillcolor="rgba(255,0,0,0.2)",
                         line=dict(color="#ff0000", width=7), hoverinfo="skip"))
t, v = split(PRED_PROB)
fig.add_trace(go.Scatter(x=t, y=v, mode="lines", yaxis="y9", fill="tozeroy", fillcolor="rgba(128,128,128,0.2)",
                         line=dict(color="rgba(150,150,150,0.85)", width=6), hoverinfo="skip"))
t, v = split(PRED_LABEL)
fig.add_trace(go.Scatter(x=t, y=v, mode="lines", yaxis="y9", fill="tozeroy", fillcolor="rgba(0,128,0,0.2)",
                         line=dict(color="#008000", width=7), hoverinfo="skip"))

# gridlines, axis lines, ticks and tick labels
DARK, LIGHT = "#808080", "#d9d9d9"
axes_spec = [
    ("y6", AIRFLOW_TICKS, AIRFLOW_TICKTEXT, [(0, LIGHT), (0.5, DARK), (1.05, DARK)]),
    ("y7", SPO2_TICKS, SPO2_TICKTEXT, [(90, LIGHT), (95, DARK), (100, DARK)]),
    ("y8", BIN_TICKS, BIN_TICKTEXT, [(0, LIGHT), (0.5, DARK), (1, DARK)]),
    ("y9", BIN_TICKS, BIN_TICKTEXT, [(0, LIGHT), (0.5, DARK), (1, DARK)]),
]
shapes, annotations = [], []
for yref, ticks, texts, grids in axes_spec:
    for val, col in grids:
        shapes.append(dict(type="line", xref="paper", yref=yref, x0=fx(AXIS_PX), x1=fx(GRID_END_PX),
                           y0=val, y1=val, layer="below", line=dict(color=col, width=3, dash="26px,11px")))
    shapes.append(dict(type="line", xref="paper", yref=yref, x0=fx(AXIS_PX), x1=fx(AXIS_PX),
                       y0=ticks[0], y1=ticks[-1], line=dict(color="black", width=5)))
    for val, txt in zip(ticks, texts):
        shapes.append(dict(type="line", xref="paper", yref=yref, x0=fx(463), x1=fx(491),
                           y0=val, y1=val, line=dict(color="black", width=7)))
        annotations.append(dict(xref="paper", yref=yref, x=fx(425), y=val, text=txt, showarrow=False,
                                xanchor="center", yanchor="middle",
                                font=dict(family=FONT, size=44, color="black", weight="bold")))

LABEL_CENTERS_PX = [[214, 297, 379], [621, 704], [902, 983], [1151, 1233], [1420, 1503]]
for lines, centers in zip(LEFT_LABELS, LABEL_CENTERS_PX):
    for txt, c in zip(lines, centers):
        annotations.append(dict(xref="paper", yref="paper", x=fx(44), y=fy(c), text=txt, showarrow=False,
                                xanchor="left", yanchor="middle",
                                font=dict(family=FONT, size=68, color="black", weight="bold")))

layout["shapes"] = shapes
layout["annotations"] = annotations
fig.update_layout(**layout)
fig.write_html("out.html")
